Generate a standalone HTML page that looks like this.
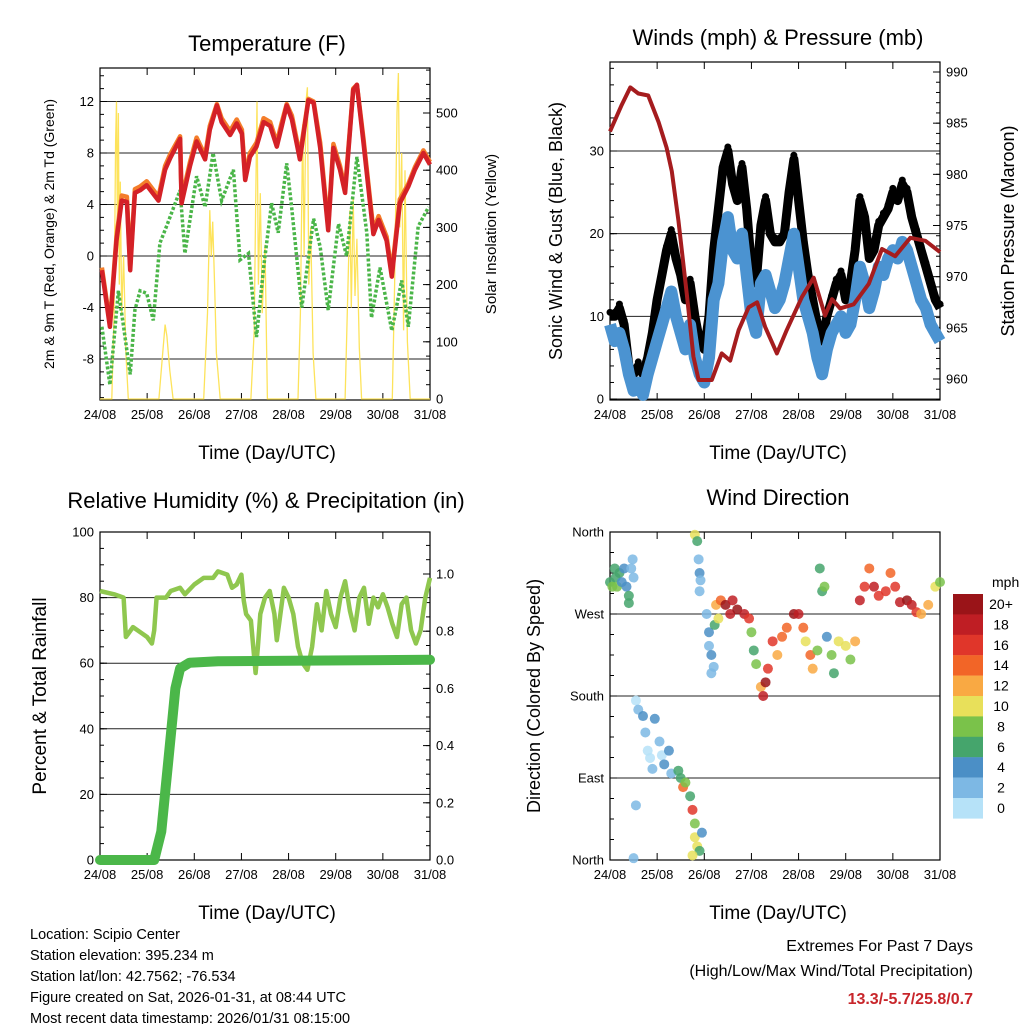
<!DOCTYPE html>
<html><head><meta charset="utf-8">
<style>
body{margin:0;background:#fff;width:1024px;height:1024px;overflow:hidden;font-family:"Liberation Sans",sans-serif;}
svg{display:block}
text{font-family:"Liberation Sans",sans-serif;fill:#000}
</style></head>
<body>
<svg id="chart" width="1024" height="1024" viewBox="0 0 1024 1024" xmlns="http://www.w3.org/2000/svg">
<text x="267" y="51" font-size="22" text-anchor="middle">Temperature (F)</text>
<text x="778" y="45" font-size="22" text-anchor="middle">Winds (mph) &amp; Pressure (mb)</text>
<text x="266" y="508" font-size="22" text-anchor="middle">Relative Humidity (%) &amp; Precipitation (in)</text>
<text x="778" y="505" font-size="22" text-anchor="middle">Wind Direction</text>
<text x="267" y="459" font-size="19" text-anchor="middle">Time (Day/UTC)</text>
<text x="778" y="459" font-size="19" text-anchor="middle">Time (Day/UTC)</text>
<text x="267" y="919" font-size="19" text-anchor="middle">Time (Day/UTC)</text>
<text x="778" y="919" font-size="19" text-anchor="middle">Time (Day/UTC)</text>
<text transform="translate(54,234) rotate(-90)" font-size="14" text-anchor="middle">2m &amp; 9m T (Red, Orange) &amp; 2m Td (Green)</text>
<text transform="translate(496,234) rotate(-90)" font-size="15" text-anchor="middle">Solar Insolation (Yellow)</text>
<text transform="translate(562,231) rotate(-90)" font-size="18" text-anchor="middle">Sonic Wind &amp; Gust (Blue, Black)</text>
<text transform="translate(1014,231) rotate(-90)" font-size="18" text-anchor="middle">Station Pressure (Maroon)</text>
<text transform="translate(46,696) rotate(-90)" font-size="19" text-anchor="middle">Percent &amp; Total Rainfall</text>
<text transform="translate(540,696) rotate(-90)" font-size="18" text-anchor="middle">Direction (Colored By Speed)</text>
<g font-size="14.5">
<text x="30" y="939">Location: Scipio Center</text>
<text x="30" y="960">Station elevation: 395.234 m</text>
<text x="30" y="981">Station lat/lon: 42.7562; -76.534</text>
<text x="30" y="1002">Figure created on Sat, 2026-01-31, at 08:44 UTC</text>
<text x="30" y="1023">Most recent data timestamp: 2026/01/31 08:15:00</text>
</g>
<g text-anchor="end">
<text x="973" y="951" font-size="16">Extremes For Past 7 Days</text>
<text x="973" y="976" font-size="16">(High/Low/Max Wind/Total Precipitation)</text>
<text x="973" y="1004" font-size="16" font-weight="bold" style="fill:#c8262b">13.3/-5.7/25.8/0.7</text>
</g>
<g id="layer"></g>
</svg>
<script>
const dayLabels=["24/08","25/08","26/08","27/08","28/08","29/08","30/08","31/08"];
const tempDays=[0.04,0.21,0.35,0.46,0.57,0.64,0.74,0.85,0.99,1.24,1.38,1.49,1.70,1.73,1.91,2.05,2.23,2.33,2.48,2.58,2.76,2.90,3.01,3.08,3.18,3.32,3.47,3.61,3.75,3.85,3.96,4.07,4.24,4.42,4.53,4.67,4.84,4.95,5.09,5.20,5.37,5.45,5.59,5.80,5.91,6.08,6.19,6.36,6.54,6.68,6.86,7.0];
const temp2m=[-1.1,-5.5,1.2,4.3,4.2,-1.1,4.9,5.1,5.5,4.3,6.7,7.6,9.1,4.1,7,8.9,7.5,9.8,11.7,10.4,9.4,10.3,9.5,5.9,7.7,8.5,10.4,10.1,8.5,10,11.7,10.6,7.5,12.1,11.9,8.4,2,8.4,6.7,4.9,12.9,13.3,8.8,1.7,2.8,1.2,-1.6,4.1,5.4,6.7,8,7.1];
const temp9m=[-0.9,-5.2,1.5,4.7,4.6,-0.8,5.2,5.4,5.8,4.6,7.0,7.9,9.3,4.4,7.3,9.2,7.8,10.1,11.8,10.7,9.7,10.6,9.8,6.2,8.0,8.8,10.7,10.4,8.8,10.3,11.8,10.9,7.8,12.2,12.0,8.8,2.3,8.7,7.0,5.2,13.0,13.3,9.1,2.0,3.1,1.5,-1.3,4.4,5.6,6.9,8.2,7.3];
const dewDays=[0.04,0.21,0.39,0.5,0.64,0.74,0.85,0.99,1.13,1.27,1.41,1.70,1.80,2.05,2.23,2.40,2.58,2.83,2.97,3.15,3.32,3.47,3.64,3.78,3.96,4.07,4.28,4.53,4.67,4.84,5.06,5.23,5.45,5.66,5.76,5.94,6.19,6.40,6.54,6.75,6.97];
const dewPoint=[-5.5,-10,-2.7,-5.5,-9.2,-4.2,-2.7,-2.9,-5,1,2.3,5.1,0.2,6.2,3.8,8,4.3,6.7,-0.3,0.2,-6.3,-0.9,4.1,1.8,7.2,3.6,-4,2.9,0.7,-4.2,2.5,0,7.7,1.8,-4.8,-0.9,-5.8,-1.9,-5.5,2.3,3.8];
const solarDays=[0,0.25,0.3,0.33,0.35,0.37,0.39,0.41,0.43,0.46,0.5,0.55,0.6,1.25,1.33,1.38,1.42,1.48,1.55,2.2,2.28,2.33,2.36,2.39,2.43,2.47,2.55,3.2,3.27,3.3,3.33,3.36,3.4,3.44,3.5,3.55,4.2,4.25,4.3,4.33,4.37,4.4,4.43,4.47,4.52,4.58,5.2,5.26,5.3,5.33,5.37,5.41,5.45,5.5,5.55,6.2,6.25,6.3,6.33,6.36,6.4,6.44,6.47,6.52,6.58,7];
const solar=[0,0,150,450,520,300,500,200,380,150,250,80,0,0,80,130,110,50,0,0,150,330,250,310,200,80,0,0,120,330,520,200,360,150,270,0,0,150,480,250,520,545,200,300,80,0,0,200,330,160,350,180,280,90,0,0,200,500,570,300,430,120,400,100,0,0];
const pressDays=[0,0.25,0.43,0.6,0.81,1.03,1.2,1.31,1.45,1.63,1.77,1.88,2.16,2.37,2.55,2.73,2.94,3.12,3.29,3.54,3.75,4.07,4.32,4.56,4.71,4.88,5.17,5.49,5.77,6.05,6.37,6.69,7.0];
const pressure=[984.2,986.8,988.5,987.9,987.7,985.1,982.6,980.3,975.5,968.3,962.2,959.9,959.9,962.5,961.8,964.8,967,967.5,965.1,962.5,964.8,968,969.9,966.2,967.8,966.9,967.3,969.3,972.7,972,973.8,973.5,972.4];
const windDays=[0,0.1,0.2,0.3,0.4,0.5,0.6,0.7,0.8,0.9,1.0,1.1,1.2,1.3,1.4,1.5,1.6,1.7,1.8,1.9,2.0,2.1,2.2,2.3,2.4,2.5,2.6,2.7,2.8,2.9,3.0,3.1,3.2,3.3,3.4,3.5,3.6,3.7,3.8,3.9,4.0,4.1,4.2,4.3,4.4,4.5,4.6,4.7,4.8,4.9,5.0,5.1,5.2,5.3,5.4,5.5,5.6,5.7,5.8,5.9,6.0,6.1,6.2,6.3,6.4,6.5,6.6,6.7,6.8,6.9,7.0];
const windSpeed=[9,7,8,6,3,1,2,0.5,3,5,7,9,11,13,10,8,6,9,5,3,2,5,12,14,19,22,18,17,20,15,10,8,14,15,13,11,12,14,17,20,16,12,10,8,5,3,6,8,9,10,8,9,12,16,14,11,13,16,15,17,18,17,19,18,16,14,12,11,9,8,7];
const windGust=[10,10,11,9,4,3,4,3,5,8,12,15,18,20,17,15,12,14,10,7,6,10,18,23,28,30,26,24,28,23,16,14,21,24,20,19,19,20,25,29,24,19,15,12,9,7,10,12,14,15,12,14,18,24,22,17,18,21,22,23,25,24,26,25,22,20,18,16,14,12,11];
const rhDays=[0,0.3,0.5,0.55,0.7,0.9,1.0,1.1,1.15,1.2,1.4,1.5,1.7,1.8,2.0,2.2,2.4,2.5,2.7,2.8,2.9,3.0,3.05,3.1,3.2,3.3,3.35,3.4,3.5,3.6,3.7,3.75,3.8,3.9,4.0,4.1,4.2,4.3,4.4,4.5,4.6,4.7,4.8,4.9,5.0,5.1,5.2,5.3,5.4,5.5,5.6,5.7,5.8,5.9,6.0,6.1,6.2,6.3,6.4,6.5,6.6,6.7,6.8,6.9,7.0];
const relHum=[82,81,80,68,71,69,68,66,70,80,80,82,83,81,84,86,86,88,87,83,84,87,79,75,73,57,65,75,80,82,75,67,72,83,80,75,65,60,58,65,78,70,82,75,71,80,85,76,70,80,83,72,80,77,81,77,72,68,78,80,70,66,70,80,86];
const precipDays=[0,1.15,1.3,1.45,1.6,1.7,1.9,2.5,7];
const precip=[0,0,0.1,0.35,0.6,0.67,0.69,0.695,0.70];
const dirDays=[0.0,0.05,0.1,0.12,0.15,0.2,0.25,0.3,0.35,0.4,0.4,0.45,0.48,0.5,1.8,1.85,1.88,1.9,1.92,1.9,2.05,2.1,2.1,2.15,2.2,2.15,2.22,2.25,2.3,2.35,2.45,2.55,2.6,2.7,2.85,2.95,3.0,3.05,3.1,3.2,3.25,3.3,3.35,3.45,3.55,3.65,3.75,3.9,4.0,4.1,4.15,4.25,4.3,4.4,4.5,4.45,4.55,4.6,4.7,4.75,4.85,5.0,5.1,5.2,5.3,5.4,5.5,5.6,5.7,5.85,5.95,6.05,6.15,6.3,6.4,6.5,6.6,6.75,6.9,7.0,0.55,0.6,0.7,0.75,0.8,0.85,0.9,0.95,1.05,1.1,1.15,1.25,1.3,1.45,1.5,1.55,1.6,1.7,1.75,1.8,1.8,1.85,1.9,1.75,1.95,0.5,0.55];
const dirDeg=[305,300,320,310,300,315,305,320,300,290,282,320,330,310,357,350,330,315,307,295,270,250,235,225,212,205,258,280,265,285,280,270,285,275,270,265,250,230,215,190,180,195,210,240,225,245,255,270,270,255,240,225,210,230,295,320,300,245,225,205,240,235,220,240,285,300,320,300,290,295,315,300,283,285,280,272,270,280,300,305,175,165,158,140,120,112,100,155,130,115,105,120,95,98,90,80,85,70,55,40,25,15,10,5,30,2,60];
const dirSpeed=[7,8,6,7,8,6,5,4,5,6,6,3,2,3,10,6,2,4,3,2,2,4,3,4,3,2,6,12,10,15,20,19,18,20,18,17,8,7,8,12,18,20,17,16,12,14,15,20,19,14,11,14,12,8,7,7,8,5,8,6,10,11,8,12,18,17,15,18,16,17,15,17,19,20,18,17,13,12,10,8,1,2,4,2,1,0,2,4,2,0,4,4,3,7,6,14,8,6,16,8,10,11,7,10,5,3,2];
const speedLevels=["20+","18","16","14","12","10","8","6","4","2","0"];
const speedColors=["#9a1418","#bf1e24","#e0362a","#f26527","#f9a943","#e8e05a","#7ac24a","#45a56c","#4b8fc6","#7db8e4","#b6e2f8"];

const NS="http://www.w3.org/2000/svg";
const layer=document.getElementById('layer');
function mk(tag,attrs,parent){const e=document.createElementNS(NS,tag);for(const k in attrs)e.setAttribute(k,attrs[k]);(parent||layer).appendChild(e);return e;}
function lin(d0,d1,r0,r1){return v=>r0+(v-d0)*(r1-r0)/(d1-d0);}
function pathOf(xs,ys,fx,fy){return xs.map((d,i)=>(i?'L':'M')+fx(d).toFixed(1)+','+fy(ys[i]).toFixed(1)).join('');}

function panel(name,x0,x1,y0,y1){
  const g=mk('g',{});
  
  
  const fx=lin(0,7,x0,x1);
  dayLabels.forEach((lab,i)=>{
    const x=fx(i);
    const t=mk('line',{x1:x,x2:x,y1:y1,y2:y1-7,stroke:'#000','stroke-width':1},g);
    
    
    const t2=mk('line',{x1:x,x2:x,y1:y0,y2:y0+7,stroke:'#000','stroke-width':1},g);
    
    
    const tx=mk('text',{x:x,y:y1+19,'font-size':13,'text-anchor':'middle'},g);
    tx.textContent=lab;
    
    
  });
  return {g,fx};
}
function frame(g,x0,x1,y0,y1){
  const r=mk('rect',{x:x0,y:y0,width:x1-x0,height:y1-y0,fill:'none',stroke:'#000','stroke-width':1.2},g);
  
  
}
function yAxis(g,fy,ticks,labels,x,side,grid,x0,x1,minors){
  ticks.forEach((v,i)=>{
    const y=fy(v);
    if(grid){const gl=mk('line',{x1:x0,x2:x1,y1:y,y2:y,stroke:'#222','stroke-width':1},g);
      
      }
    const tk=mk('line',{x1:x,x2:x+(side<0?7:-7),y1:y,y2:y,stroke:'#000'},g);
    
    
    const t=mk('text',{x:side<0?x-6:x+6,y:y+4.5,'font-size':13,'text-anchor':side<0?'end':'start'},g);
    t.textContent=labels[i];
    
    
  });
  (minors||[]).forEach(v=>{const y=fy(v);
    const m=mk('line',{x1:x,x2:x+(side<0?4:-4),y1:y,y2:y,stroke:'#000'},g);
    
    });
}
function range(a,b,s){const r=[];for(let v=a;v<=b+1e-9;v+=s)r.push(+v.toFixed(4));return r;}

// ---- Temperature panel
{
  const X0=100,X1=430,Y0=68,Y1=400;
  const {g,fx}=panel('temp',X0,X1,Y0,Y1);
  const fy=lin(0,12,256,101.5);
  const fs=lin(0,500,399,113);
  const tt=[-8,-4,0,4,8,12];
  yAxis(g,fy,tt,tt.map(String),X0,-1,true,X0,X1,range(-11,14,1));
  yAxis(g,fs,[0,100,200,300,400,500],["0","100","200","300","400","500"],X1,1,false,X0,X1,range(0,575,25));
  const s=mk('path',{d:pathOf(solarDays,solar,fx,fs),fill:'none',stroke:'#fde35b','stroke-width':1.3});
  
  
  const dw=mk('path',{d:pathOf(dewDays,dewPoint,fx,fy),fill:'none',stroke:'#4ab548','stroke-width':3.5,'stroke-dasharray':'3 2'});
  
  
  const o=mk('path',{d:pathOf(tempDays,temp9m,fx,fy),fill:'none',stroke:'#f47d2a','stroke-width':4.5,'stroke-linejoin':'round'});
  
  
  const r=mk('path',{d:pathOf(tempDays,temp2m,fx,fy),fill:'none',stroke:'#d42127','stroke-width':4.5,'stroke-linejoin':'round'});
  
  
  frame(g,X0,X1,Y0,Y1);
}
// ---- Winds panel
{
  const X0=610,X1=940,Y0=62,Y1=400;
  const {g,fx}=panel('wind',X0,X1,Y0,Y1);
  const fy=lin(0,30,399,151);
  const fp=lin(960,990,379,72);
  yAxis(g,fy,[0,10,20,30],["0","10","20","30"],X0,-1,true,X0,X1,range(0,40,2));
  yAxis(g,fp,[960,965,970,975,980,985,990],["960","965","970","975","980","985","990"],X1,1,false,X0,X1,range(958,990,1));
  const gl=mk('path',{d:pathOf(windDays,windGust,fx,fy),fill:'none',stroke:'#000','stroke-width':9,'stroke-linejoin':'round'});
  
  
  windDays.forEach((d,i)=>{
    const c=mk('circle',{cx:fx(d),cy:fy(windGust[i])-4,r:3.5,fill:'#000'});
    
    
  });
  const b=mk('path',{d:pathOf(windDays,windSpeed,fx,fy),fill:'none',stroke:'#4b93d1','stroke-width':12,'stroke-linejoin':'round'});
  
  
  const p=mk('path',{d:pathOf(pressDays,pressure,fx,fp),fill:'none',stroke:'#a51c1e','stroke-width':4,'stroke-linejoin':'round'});
  
  
  frame(g,X0,X1,Y0,Y1);
}
// ---- RH panel
{
  const X0=100,X1=430,Y0=532,Y1=860;
  const {g,fx}=panel('rh',X0,X1,Y0,Y1);
  const fy=lin(0,100,860,532);
  const fr=lin(0,1,860,574);
  yAxis(g,fy,[0,20,40,60,80,100],["0","20","40","60","80","100"],X0,-1,true,X0,X1,range(0,100,5));
  yAxis(g,fr,[0,0.2,0.4,0.6,0.8,1.0],["0.0","0.2","0.4","0.6","0.8","1.0"],X1,1,false,X0,X1,range(0,1.1,0.05));
  const h=mk('path',{d:pathOf(rhDays,relHum,fx,fy),fill:'none',stroke:'#8fc74f','stroke-width':4.5,'stroke-linejoin':'round'});
  
  
  const pr=mk('path',{d:pathOf(precipDays,precip,fx,fr),fill:'none',stroke:'#4bb749','stroke-width':10,'stroke-linejoin':'round','stroke-linecap':'round'});
  
  
  frame(g,X0,X1,Y0,Y1);
}
// ---- Direction panel
{
  const X0=610,X1=940,Y0=532,Y1=860;
  const {g,fx}=panel('dir',X0,X1,Y0,Y1);
  const fy=lin(0,360,860,532);
  yAxis(g,fy,[0,90,180,270,360],["North","East","South","West","North"],X0,-1,true,X0,X1,range(0,360,22.5));
  function col(s){const i=Math.min(10,Math.max(0,Math.floor(s/2)));return speedColors[10-i];}
  dirDays.forEach((d,i)=>{
    const c=mk('circle',{cx:fx(d),cy:fy(dirDeg[i]),r:5,fill:col(dirSpeed[i]),'fill-opacity':0.85});
    
    
  });
  frame(g,X0,X1,Y0,Y1);
  const lg=mk('g',{});
  
  
  const u=mk('text',{x:992,y:587,'font-size':14},lg);
  u.textContent='mph';
  speedLevels.forEach((lab,i)=>{
    const y=594+i*20.4;
    const r=mk('rect',{x:953,y:y,width:30,height:20.6,fill:speedColors[i]},lg);
    
    
    const t=mk('text',{x:1001,y:y+15,'font-size':14,'text-anchor':'middle'},lg);
    t.textContent=lab;
    
    
  });
}
</script>
</body></html>
